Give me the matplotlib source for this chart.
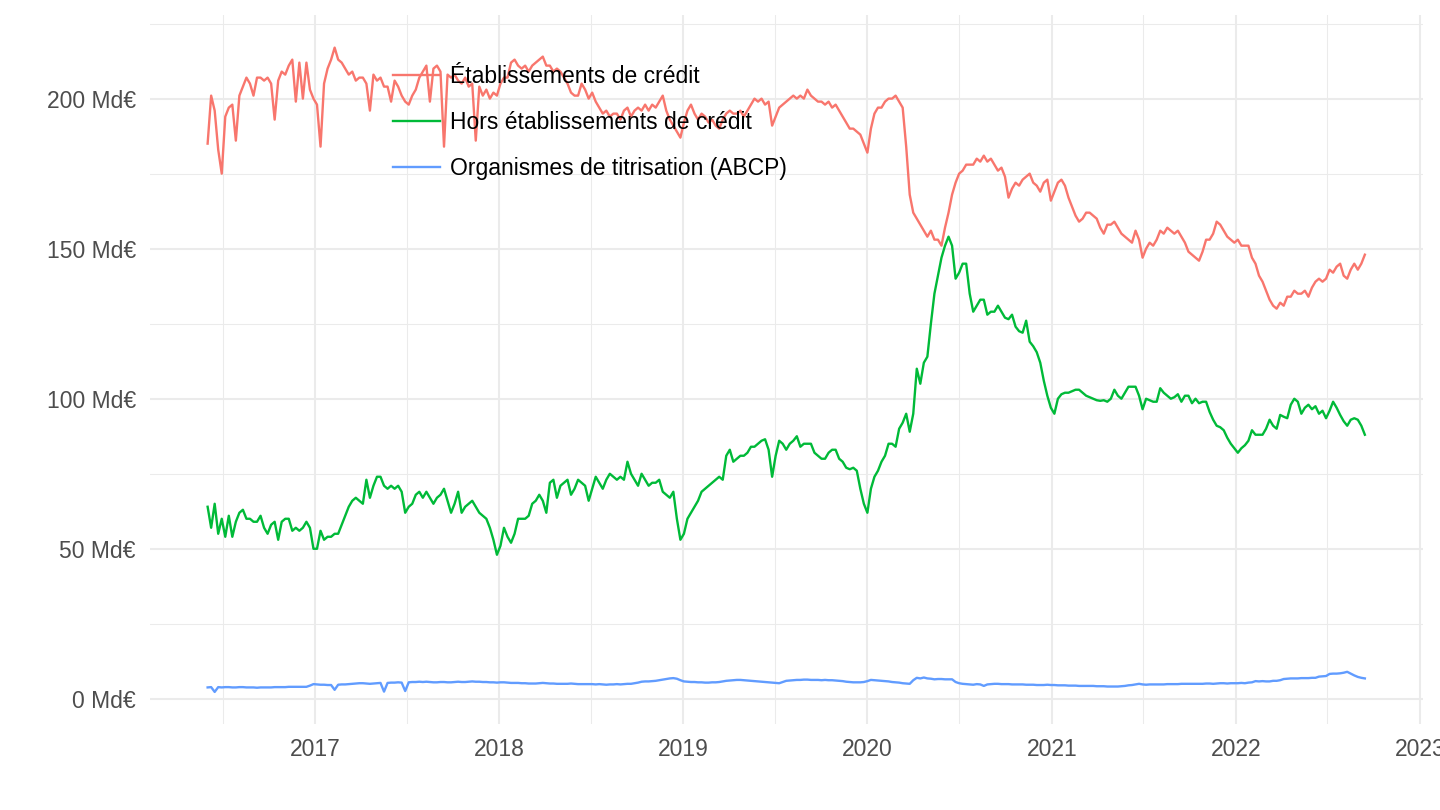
import matplotlib

matplotlib.use("Agg")
import matplotlib.pyplot as plt
import matplotlib.dates as mdates
import matplotlib.ticker as mticker
import pandas as pd

plt.rcParams["font.family"] = ["Liberation Sans", "DejaVu Sans"]

# --- DATA (weekly outstanding amounts, Md€) ---
first_week = "2016-06-01"

credit_inst = [
    185, 201, 196, 183, 175, 194, 197, 198, 186, 201,
    204, 207, 205, 201, 207, 207, 206, 207, 205, 193,
    206, 209, 208, 211, 213, 199, 212, 200, 212, 203,
    200, 198, 184, 205, 210, 213, 217, 213, 212, 210,
    208, 209, 206, 207, 207, 205, 196, 208, 206, 207,
    204, 204, 199, 206, 204, 201, 199, 198, 201, 203,
    207, 209, 211, 199, 210, 211, 209, 184, 208, 207,
    208, 206, 205, 207, 204, 205, 186, 204, 201, 203,
    200, 202, 201, 205, 207, 207, 212, 213, 211, 210,
    211, 209, 211, 212, 213, 214, 211, 211, 209, 210,
    209, 207, 205, 202, 201, 201, 205, 203, 200, 202,
    199, 197, 195, 196, 194, 195, 195, 193, 196, 197,
    194, 196, 197, 196, 198, 196, 198, 197, 199, 201,
    196, 193, 191, 189, 187, 192, 196, 198, 195, 193,
    195, 194, 192, 193, 191, 190, 193, 195, 196, 195,
    195, 196, 194, 196, 198, 200, 199, 200, 198, 199,
    191, 194, 197, 198, 199, 200, 201, 200, 201, 200,
    203, 201, 200, 199, 199, 198, 199, 197, 198, 196,
    194, 192, 190, 190, 189, 188, 185, 182, 190, 195,
    197, 197, 199, 200, 200, 201, 199, 197, 184, 168,
    162, 160, 158, 156, 154, 156, 153, 153, 151, 157,
    162, 168, 172, 175, 176, 178, 178, 178, 180, 179,
    181, 179, 180, 178, 176, 177, 174, 167, 170, 172,
    171, 173, 174, 175, 172, 171, 169, 172, 173, 166,
    169, 172, 173, 171, 167, 164, 161, 159, 160, 162,
    162, 161, 160, 157, 155, 158, 158, 159, 157, 155,
    154, 153, 152, 156, 153, 147, 150, 152, 151, 153,
    156, 155, 157, 156, 155, 156, 154, 152, 149, 148,
    147, 146, 149, 153, 153, 155, 159, 158, 156, 154,
    153, 152, 153, 151, 151, 151, 147, 145, 141, 139,
    136, 133, 131, 130, 132, 131, 134, 134, 136, 135,
    135, 136, 134, 137, 139, 140, 139, 140, 143, 142,
    144, 145, 141, 140, 143, 145, 143, 145, 148,
]

non_credit = [
    64, 57, 65, 55, 60, 54, 61, 54, 59, 62,
    63, 60, 60, 59, 59, 61, 57, 55, 58, 59,
    53, 59, 60, 60, 56, 57, 56, 57, 59, 57,
    50, 50, 56, 53, 54, 54, 55, 55, 58, 61,
    64, 66, 67, 66, 65, 73, 67, 71, 74, 74,
    71, 70, 71, 70, 71, 69, 62, 64, 65, 68,
    69, 67, 69, 67, 65, 67, 68, 70, 66, 62,
    65, 69, 62, 64, 65, 66, 64, 62, 61, 60,
    57, 53, 48, 51, 57, 54, 52, 55, 60, 60,
    60, 61, 65, 66, 68, 66, 62, 72, 73, 67,
    71, 72, 73, 68, 70, 73, 72, 71, 66, 70,
    74, 72, 70, 73, 75, 74, 73, 74, 73, 79,
    75, 73, 71, 75, 73, 71, 72, 72, 73, 69,
    68, 67, 69, 60, 53, 55, 60, 62, 64, 66,
    69, 70, 71, 72, 73, 74, 73, 81, 83, 79,
    80, 81, 81, 82, 84, 84, 85, 86, 86.5, 83,
    74, 81, 86, 85, 83, 85, 86, 87.5, 84, 85,
    85, 85, 82, 81, 80, 80, 82, 83, 83, 80,
    79, 77, 76.5, 77, 76, 70, 65, 62, 70, 74,
    76, 79, 81, 85, 85, 84, 90, 92, 95, 89,
    95, 110, 105, 112, 114, 125, 135, 141, 147, 151,
    154, 151, 140, 142, 145, 145, 135, 129, 131, 133,
    133, 128, 129, 129, 131, 129, 127, 126.5, 128, 124,
    122.5, 122, 126, 119, 117.5, 115.5, 112, 106, 101, 97,
    95, 100, 101.5, 102, 102, 102.5, 103, 103, 102, 101,
    100.5, 100, 99.5, 99.3, 99.5, 99, 100, 103, 101, 100,
    102, 104, 104, 104, 101, 96.5, 100, 99.5, 99, 99,
    103.5, 102, 101, 100, 100.5, 101.5, 99, 101, 101, 98.5,
    100, 98.5, 99, 99, 95.6, 93, 91, 90.5, 89.5, 87,
    85, 83.5, 82, 83.5, 84.5, 86, 89.5, 88, 88, 88,
    90, 93, 91, 90, 94.6, 94, 93.5, 98, 100, 99,
    95, 97, 98, 96.5, 97.5, 95, 96, 93.5, 96, 99,
    97, 94.6, 92.5, 91, 93, 93.5, 93, 91, 88,
]

abcp = [
    3.8, 3.9, 2.3, 3.9, 3.8, 3.9, 3.9, 3.8, 3.8, 3.9,
    3.9, 3.8, 3.8, 3.8, 3.7, 3.8, 3.8, 3.8, 3.8, 3.9,
    3.9, 3.9, 3.9, 4.0, 4.0, 4.0, 4.0, 4.0, 4.0, 4.4,
    4.9, 4.8, 4.7, 4.7, 4.6, 4.6, 3.0, 4.7, 4.8, 4.8,
    4.9, 5.0, 5.1, 5.2, 5.2, 5.1, 5.0, 5.1, 5.2, 5.3,
    2.4, 5.3, 5.4, 5.4, 5.5, 5.4, 2.6, 5.5, 5.6, 5.6,
    5.7, 5.6, 5.7, 5.6, 5.5, 5.5, 5.6, 5.6, 5.5, 5.5,
    5.6, 5.7, 5.6, 5.6, 5.7, 5.8, 5.7, 5.7, 5.6, 5.6,
    5.5, 5.5, 5.4, 5.5, 5.5, 5.4, 5.3, 5.3, 5.3, 5.2,
    5.2, 5.1, 5.1, 5.1, 5.2, 5.3, 5.2, 5.1, 5.1, 5.0,
    5.0, 5.0, 5.0, 5.1, 5.0, 4.9, 4.9, 4.9, 4.9, 4.9,
    4.8, 4.9, 4.8, 4.7, 4.8, 4.8, 4.9, 4.8, 4.9, 5.0,
    5.0, 5.2, 5.4, 5.7, 5.8, 5.8, 5.9, 6.0, 6.2, 6.4,
    6.6, 6.8, 6.9, 6.7, 6.2, 5.8, 5.7, 5.6, 5.6, 5.5,
    5.5, 5.4, 5.4, 5.5, 5.5, 5.6, 5.8, 6.0, 6.1, 6.2,
    6.3, 6.3, 6.2, 6.1, 6.0, 5.9, 5.8, 5.7, 5.6, 5.5,
    5.4, 5.3, 5.2, 5.6, 6.0, 6.1, 6.2, 6.3, 6.3, 6.4,
    6.4, 6.3, 6.3, 6.3, 6.2, 6.3, 6.2, 6.2, 6.1, 6.0,
    5.9, 5.7, 5.6, 5.5, 5.5, 5.5, 5.6, 5.9, 6.3, 6.2,
    6.1, 6.0, 5.9, 5.8, 5.6, 5.5, 5.4, 5.2, 5.1, 5.0,
    6.2, 7.0, 6.8, 7.1, 6.8, 6.7, 6.5, 6.6, 6.6, 6.5,
    6.5, 6.5, 5.6, 5.2, 5.0, 4.9, 4.8, 4.7, 4.9, 4.8,
    4.3, 4.8, 4.9, 5.0, 5.0, 4.9, 4.9, 4.9, 4.8, 4.8,
    4.8, 4.8, 4.7, 4.7, 4.7, 4.6, 4.6, 4.6, 4.7, 4.6,
    4.6, 4.5, 4.5, 4.5, 4.4, 4.4, 4.4, 4.3, 4.3, 4.3,
    4.3, 4.3, 4.2, 4.2, 4.2, 4.1, 4.1, 4.1, 4.1, 4.2,
    4.3, 4.5, 4.6, 4.8, 5.0, 4.8, 4.7, 4.8, 4.8, 4.8,
    4.8, 4.8, 4.9, 4.9, 4.9, 4.9, 5.0, 5.0, 5.0, 5.0,
    5.0, 5.0, 5.0, 5.1, 5.1, 5.0, 5.1, 5.2, 5.2, 5.1,
    5.2, 5.2, 5.2, 5.3, 5.2, 5.4, 5.5, 5.9, 5.8, 5.9,
    5.8, 5.8, 6.0, 6.0, 6.2, 6.6, 6.7, 6.8, 6.8, 6.8,
    6.9, 6.9, 6.9, 7.0, 7.0, 7.4, 7.5, 7.6, 8.3, 8.4,
    8.4, 8.5, 8.7, 9.0, 8.4, 7.8, 7.3, 7.0, 6.8,
]

series_names = [
    "Établissements de crédit",
    "Hors établissements de crédit",
    "Organismes de titrisation (ABCP)",
]
series_colors = ["#F8766D", "#00BA38", "#619CFF"]

y_ticks = [0, 50, 100, 150, 200]
y_minor = [25, 75, 125, 175, 225]

# --- THEME (ggplot minimal look) ---
C_GRID = "#EBEBEB"
C_TICK = "#4D4D4D"

fig = plt.figure(figsize=(14.4, 8.1), dpi=100)
ax = fig.add_axes([0.104, 0.106, 0.884, 0.875])

all_values = []
for name, color, vals in zip(series_names, series_colors, [credit_inst, non_credit, abcp]):
    dates = pd.date_range(first_week, periods=len(vals), freq="7D")
    ax.plot(dates, vals, color=color, linewidth=1.7, label=name, solid_joinstyle="round")
    all_values += vals
    last_dates = dates

first = pd.Timestamp(first_week)
last = last_dates[-1]
span = last - first
ax.set_xlim(first - span * 0.05, last + span * 0.05)
vmin, vmax = min(all_values), max(all_values)
ax.set_ylim(vmin - (vmax - vmin) * 0.05, vmax + (vmax - vmin) * 0.05)

ax.xaxis.set_major_locator(mdates.YearLocator())
ax.xaxis.set_minor_locator(mdates.MonthLocator(bymonth=7))
ax.xaxis.set_major_formatter(mdates.DateFormatter("%Y"))
ax.set_yticks(y_ticks)
ax.set_yticks(y_minor, minor=True)
ax.yaxis.set_major_formatter(mticker.FuncFormatter(lambda v, p: f"{v:g} Md€"))

ax.grid(True, which="major", color=C_GRID, linewidth=1.5)
ax.grid(True, which="minor", color=C_GRID, linewidth=0.75)
ax.set_axisbelow(True)
for s in ax.spines.values():
    s.set_visible(False)
ax.tick_params(axis="both", which="both", length=0, labelsize=16.5, colors=C_TICK)
ax.tick_params(axis="x", pad=10)
ax.tick_params(axis="y", pad=10)

fig.legend(loc="center left", bbox_to_anchor=(0.273, 0.849), frameon=False,
           fontsize=16.5, handlelength=2.05, handletextpad=0.45, labelspacing=1.0,
           borderpad=0, borderaxespad=0)

fig.savefig("out.png", dpi=100)
